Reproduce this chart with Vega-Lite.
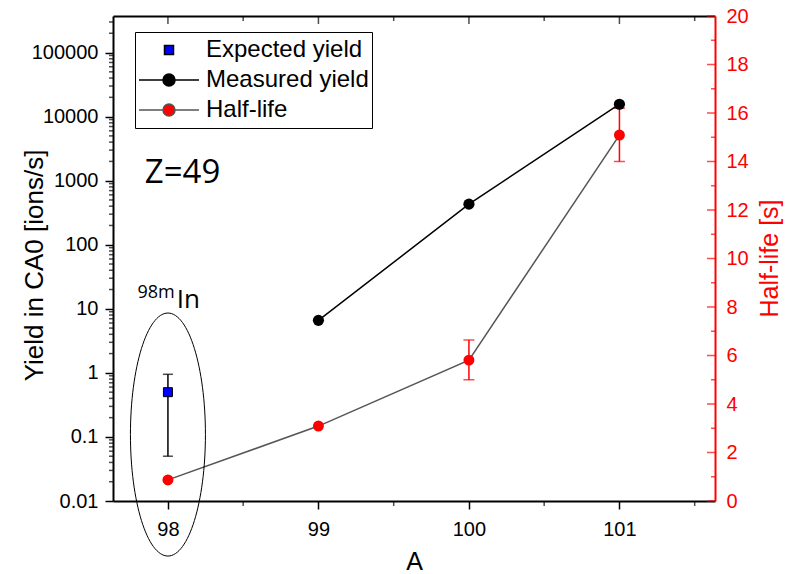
{
  "$schema": "https://vega.github.io/schema/vega-lite/v6.json",
  "width": 602,
  "height": 485,
  "autosize": {"type": "none"},
  "padding": {"left": 113, "top": 16, "right": 77, "bottom": 73},
  "background": "white",
  "config": {
    "view": {"stroke": null},
    "axis": {
      "grid": false,
      "labelFont": "Liberation Sans",
      "labelFontSize": 20,
      "labelColor": "black",
      "titleFont": "Liberation Sans",
      "titleFontWeight": "normal",
      "titleColor": "black",
      "domainColor": "black",
      "domainWidth": 2,
      "tickColor": "black",
      "tickWidth": 1.5,
      "labelOverlap": false,
      "labelFlush": false,
      "labelBound": false
    },
    "legend": {
      "strokeColor": "black",
      "fillColor": "white",
      "padding": 3,
      "labelFont": "Liberation Sans",
      "labelFontSize": 24,
      "labelColor": "black",
      "labelOffset": 6,
      "labelLimit": 400,
      "symbolSize": 3600,
      "clipHeight": 30,
      "rowPadding": 0,
      "symbolStrokeWidth": 1.5,
      "symbolFillColor": "white",
      "symbolStrokeColor": "black"
    }
  },
  "datasets": {
    "yield": [
      {"A": 98, "series": "Expected yield", "yield": 0.5, "lo": 0.05, "hi": 0.95},
      {"A": 99, "series": "Measured yield", "yield": 6.6},
      {"A": 100, "series": "Measured yield", "yield": 430},
      {"A": 101, "series": "Measured yield", "yield": 15600}
    ],
    "halflife": [
      {"A": 98, "halflife": 0.87},
      {"A": 99, "halflife": 3.09},
      {"A": 100, "halflife": 5.81, "lo": 5.0, "hi": 6.64},
      {"A": 101, "halflife": 15.09, "lo": 14.0, "hi": 16.2}
    ],
    "notes": [
      {"label": "Z=49", "A": 97.846, "value": 914},
      {"label": "98m", "A": 98.045, "value": 14.7},
      {"label": "In", "A": 98.058, "value": 10.3}
    ],
    "ellipse": [{"A": 98, "value": 0.109}],
    "legend": [
      {"series": "Expected yield"},
      {"series": "Measured yield"},
      {"series": "Half-life"}
    ],
    "xticks": [
      {"A": 98, "kind": "major"}, {"A": 98.5, "kind": "minor"},
      {"A": 99, "kind": "major"}, {"A": 99.5, "kind": "minor"},
      {"A": 100, "kind": "major"}, {"A": 100.5, "kind": "minor"},
      {"A": 101, "kind": "major"}, {"A": 101.5, "kind": "minor"}
    ],
    "hlticks": [
      {"halflife": 0, "kind": "major"}, {"halflife": 1, "kind": "minor"},
      {"halflife": 2, "kind": "major"}, {"halflife": 3, "kind": "minor"},
      {"halflife": 4, "kind": "major"}, {"halflife": 5, "kind": "minor"},
      {"halflife": 6, "kind": "major"}, {"halflife": 7, "kind": "minor"},
      {"halflife": 8, "kind": "major"}, {"halflife": 9, "kind": "minor"},
      {"halflife": 10, "kind": "major"}, {"halflife": 11, "kind": "minor"},
      {"halflife": 12, "kind": "major"}, {"halflife": 13, "kind": "minor"},
      {"halflife": 14, "kind": "major"}, {"halflife": 15, "kind": "minor"},
      {"halflife": 16, "kind": "major"}, {"halflife": 17, "kind": "minor"},
      {"halflife": 18, "kind": "major"}, {"halflife": 19, "kind": "minor"},
      {"halflife": 20, "kind": "major"}
    ],
    "yticks": [
      {"yield": 0.02}, {"yield": 0.03}, {"yield": 0.04}, {"yield": 0.05}, {"yield": 0.06}, {"yield": 0.07}, {"yield": 0.08}, {"yield": 0.09},
      {"yield": 0.2}, {"yield": 0.3}, {"yield": 0.4}, {"yield": 0.5}, {"yield": 0.6}, {"yield": 0.7}, {"yield": 0.8}, {"yield": 0.9},
      {"yield": 2}, {"yield": 3}, {"yield": 4}, {"yield": 5}, {"yield": 6}, {"yield": 7}, {"yield": 8}, {"yield": 9},
      {"yield": 20}, {"yield": 30}, {"yield": 40}, {"yield": 50}, {"yield": 60}, {"yield": 70}, {"yield": 80}, {"yield": 90},
      {"yield": 200}, {"yield": 300}, {"yield": 400}, {"yield": 500}, {"yield": 600}, {"yield": 700}, {"yield": 800}, {"yield": 900},
      {"yield": 2000}, {"yield": 3000}, {"yield": 4000}, {"yield": 5000}, {"yield": 6000}, {"yield": 7000}, {"yield": 8000}, {"yield": 9000},
      {"yield": 20000}, {"yield": 30000}, {"yield": 40000}, {"yield": 50000}, {"yield": 60000}, {"yield": 70000}, {"yield": 80000}, {"yield": 90000},
      {"yield": 200000}, {"yield": 300000}
    ]
  },
  "layer": [
    {
      "data": {"name": "halflife"},
      "mark": {"type": "line", "color": "#555555", "strokeWidth": 1.5},
      "encoding": {
        "x": {
          "field": "A", "type": "quantitative",
          "scale": {"domain": [97.635, 101.635], "nice": false, "zero": false},
          "axis": {"orient": "top", "values": [98, 99, 100, 101], "labels": false, "ticks": false, "title": null}
        },
        "y": {
          "field": "halflife", "type": "quantitative",
          "scale": {"domain": [0, 20], "nice": false, "zero": false},
          "axis": {
            "orient": "right",
            "values": [0, 2, 4, 6, 8, 10, 12, 14, 16, 18, 20],
            "ticks": false,
            "labelPadding": 11,
            "labelColor": "#ff0000",
            "domainColor": "#ff0000",
            "title": "Half-life [s]",
            "titleColor": "#ff0000",
            "titleFontSize": 25,
            "titleAngle": 270,
            "titleBaseline": "alphabetic",
            "titleX": 62,
            "titleY": 242
          }
        }
      }
    },
    {
      "data": {"name": "xticks"},
      "transform": [{"filter": "datum.kind == 'major'"}],
      "mark": {"type": "tick", "orient": "vertical", "color": "black", "size": 8, "thickness": 1.5, "yOffset": 4},
      "encoding": {
        "x": {"field": "A", "type": "quantitative", "scale": {"domain": [97.635, 101.635], "nice": false, "zero": false}, "axis": null},
        "y": {"datum": 20, "type": "quantitative", "scale": {"domain": [0, 20], "nice": false, "zero": false}, "axis": null}
      }
    },
    {
      "data": {"name": "xticks"},
      "transform": [{"filter": "datum.kind == 'minor'"}],
      "mark": {"type": "tick", "orient": "vertical", "color": "black", "size": 5, "thickness": 1.5, "yOffset": 2.5},
      "encoding": {
        "x": {"field": "A", "type": "quantitative", "scale": {"domain": [97.635, 101.635], "nice": false, "zero": false}, "axis": null},
        "y": {"datum": 20, "type": "quantitative", "scale": {"domain": [0, 20], "nice": false, "zero": false}, "axis": null}
      }
    },
    {
      "data": {"name": "xticks"},
      "transform": [{"filter": "datum.kind == 'minor'"}],
      "mark": {"type": "tick", "orient": "vertical", "color": "black", "size": 5, "thickness": 1.5, "yOffset": 2.5},
      "encoding": {
        "x": {"field": "A", "type": "quantitative", "scale": {"domain": [97.635, 101.635], "nice": false, "zero": false}, "axis": null},
        "y": {"datum": 0, "type": "quantitative", "scale": {"domain": [0, 20], "nice": false, "zero": false}, "axis": null}
      }
    },
    {
      "data": {"name": "hlticks"},
      "transform": [{"filter": "datum.kind == 'major'"}],
      "mark": {"type": "tick", "orient": "horizontal", "color": "#ff0000", "size": 8, "thickness": 1.5, "xOffset": -4},
      "encoding": {
        "x": {"datum": 101.635, "type": "quantitative", "scale": {"domain": [97.635, 101.635], "nice": false, "zero": false}, "axis": null},
        "y": {"field": "halflife", "type": "quantitative", "scale": {"domain": [0, 20], "nice": false, "zero": false}, "axis": null}
      }
    },
    {
      "data": {"name": "hlticks"},
      "transform": [{"filter": "datum.kind == 'minor'"}],
      "mark": {"type": "tick", "orient": "horizontal", "color": "#ff0000", "size": 4, "thickness": 1.5, "xOffset": -2},
      "encoding": {
        "x": {"datum": 101.635, "type": "quantitative", "scale": {"domain": [97.635, 101.635], "nice": false, "zero": false}, "axis": null},
        "y": {"field": "halflife", "type": "quantitative", "scale": {"domain": [0, 20], "nice": false, "zero": false}, "axis": null}
      }
    },
    {
      "data": {"name": "halflife"},
      "transform": [{"filter": "isValid(datum.lo)"}],
      "mark": {"type": "rule", "color": "#ff0000", "strokeWidth": 1.5},
      "encoding": {
        "x": {"field": "A", "type": "quantitative", "scale": {"domain": [97.635, 101.635], "nice": false, "zero": false}, "axis": null},
        "y": {"field": "lo", "type": "quantitative", "scale": {"domain": [0, 20], "nice": false, "zero": false}, "axis": null},
        "y2": {"field": "hi"}
      }
    },
    {
      "data": {"name": "halflife"},
      "transform": [{"filter": "isValid(datum.lo)"}],
      "mark": {"type": "tick", "orient": "horizontal", "color": "#ff0000", "size": 11, "thickness": 1.5},
      "encoding": {
        "x": {"field": "A", "type": "quantitative", "scale": {"domain": [97.635, 101.635], "nice": false, "zero": false}, "axis": null},
        "y": {"field": "lo", "type": "quantitative", "scale": {"domain": [0, 20], "nice": false, "zero": false}, "axis": null}
      }
    },
    {
      "data": {"name": "halflife"},
      "transform": [{"filter": "isValid(datum.hi)"}],
      "mark": {"type": "tick", "orient": "horizontal", "color": "#ff0000", "size": 11, "thickness": 1.5},
      "encoding": {
        "x": {"field": "A", "type": "quantitative", "scale": {"domain": [97.635, 101.635], "nice": false, "zero": false}, "axis": null},
        "y": {"field": "hi", "type": "quantitative", "scale": {"domain": [0, 20], "nice": false, "zero": false}, "axis": null}
      }
    },
    {
      "data": {"name": "halflife"},
      "mark": {"type": "point", "shape": "circle", "filled": true, "color": "#ff0000", "size": 120, "opacity": 1},
      "encoding": {
        "x": {"field": "A", "type": "quantitative", "scale": {"domain": [97.635, 101.635], "nice": false, "zero": false}, "axis": null},
        "y": {"field": "halflife", "type": "quantitative", "scale": {"domain": [0, 20], "nice": false, "zero": false}, "axis": null}
      }
    },
    {
      "data": {"name": "yield"},
      "transform": [{"filter": "datum.series == 'Measured yield'"}],
      "mark": {"type": "line", "color": "black", "strokeWidth": 1.5},
      "encoding": {
        "x": {
          "field": "A", "type": "quantitative",
          "scale": {"domain": [97.635, 101.635], "nice": false, "zero": false},
          "axis": {
            "orient": "bottom",
            "values": [98, 99, 100, 101],
            "format": "d",
            "tickSize": 8,
            "labelPadding": 10,
            "title": "A",
            "titleFontSize": 25,
            "titleBaseline": "alphabetic",
            "titleY": 68
          }
        },
        "y": {
          "field": "yield", "type": "quantitative",
          "scale": {"type": "log", "domain": [0.01, 372000], "nice": false},
          "axis": {
            "orient": "left",
            "values": [0.01, 0.1, 1, 10, 100, 1000, 10000, 100000],
            "labelExpr": "'' + datum.value",
            "tickSize": 8,
            "labelPadding": 7,
            "title": "Yield in CA0 [ions/s]",
            "titleFontSize": 26,
            "titleAngle": 270,
            "titleBaseline": "alphabetic",
            "titleX": -71,
            "titleY": 249
          }
        }
      }
    },
    {
      "data": {"name": "yticks"},
      "mark": {"type": "tick", "orient": "horizontal", "color": "black", "size": 4, "thickness": 1.5, "xOffset": -2},
      "encoding": {
        "x": {"datum": 97.635, "type": "quantitative", "scale": {"domain": [97.635, 101.635], "nice": false, "zero": false}, "axis": null},
        "y": {"field": "yield", "type": "quantitative", "scale": {"type": "log", "domain": [0.01, 372000], "nice": false}, "axis": null}
      }
    },
    {
      "data": {"name": "yield"},
      "transform": [{"filter": "isValid(datum.lo)"}],
      "mark": {"type": "rule", "color": "black", "strokeWidth": 1.5},
      "encoding": {
        "x": {"field": "A", "type": "quantitative", "scale": {"domain": [97.635, 101.635], "nice": false, "zero": false}, "axis": null},
        "y": {"field": "lo", "type": "quantitative", "scale": {"type": "log", "domain": [0.01, 372000], "nice": false}, "axis": null},
        "y2": {"field": "hi"}
      }
    },
    {
      "data": {"name": "yield"},
      "transform": [{"filter": "isValid(datum.lo)"}],
      "mark": {"type": "tick", "orient": "horizontal", "color": "black", "size": 10, "thickness": 1.5},
      "encoding": {
        "x": {"field": "A", "type": "quantitative", "scale": {"domain": [97.635, 101.635], "nice": false, "zero": false}, "axis": null},
        "y": {"field": "lo", "type": "quantitative", "scale": {"type": "log", "domain": [0.01, 372000], "nice": false}, "axis": null}
      }
    },
    {
      "data": {"name": "yield"},
      "transform": [{"filter": "isValid(datum.hi)"}],
      "mark": {"type": "tick", "orient": "horizontal", "color": "black", "size": 10, "thickness": 1.5},
      "encoding": {
        "x": {"field": "A", "type": "quantitative", "scale": {"domain": [97.635, 101.635], "nice": false, "zero": false}, "axis": null},
        "y": {"field": "hi", "type": "quantitative", "scale": {"type": "log", "domain": [0.01, 372000], "nice": false}, "axis": null}
      }
    },
    {
      "data": {"name": "yield"},
      "transform": [{"filter": "datum.series == 'Measured yield'"}],
      "mark": {"type": "point", "shape": "circle", "filled": true, "color": "black", "size": 125, "opacity": 1},
      "encoding": {
        "x": {"field": "A", "type": "quantitative", "scale": {"domain": [97.635, 101.635], "nice": false, "zero": false}, "axis": null},
        "y": {"field": "yield", "type": "quantitative", "scale": {"type": "log", "domain": [0.01, 372000], "nice": false}, "axis": null}
      }
    },
    {
      "data": {"name": "yield"},
      "transform": [{"filter": "datum.series == 'Expected yield'"}],
      "mark": {"type": "point", "shape": "square", "filled": true, "fill": "#0000ff", "stroke": "black", "strokeWidth": 1, "size": 81, "opacity": 1},
      "encoding": {
        "x": {"field": "A", "type": "quantitative", "scale": {"domain": [97.635, 101.635], "nice": false, "zero": false}, "axis": null},
        "y": {"field": "yield", "type": "quantitative", "scale": {"type": "log", "domain": [0.01, 372000], "nice": false}, "axis": null}
      }
    },
    {
      "data": {"name": "ellipse"},
      "mark": {
        "type": "point",
        "shape": "M 0.3086 0 C 0.3086 0.5523 0.1704 1 0 1 C -0.1704 1 -0.3086 0.5523 -0.3086 0 C -0.3086 -0.5523 -0.1704 -1 0 -1 C 0.1704 -1 0.3086 -0.5523 0.3086 0 Z",
        "filled": false,
        "stroke": "black",
        "strokeWidth": 1,
        "size": 59049,
        "opacity": 1
      },
      "encoding": {
        "x": {"field": "A", "type": "quantitative", "scale": {"domain": [97.635, 101.635], "nice": false, "zero": false}, "axis": null},
        "y": {"field": "value", "type": "quantitative", "scale": {"type": "log", "domain": [0.01, 372000], "nice": false}, "axis": null}
      }
    },
    {
      "data": {"name": "notes"},
      "transform": [{"filter": "datum.label == 'Z=49'"}],
      "mark": {"type": "text", "font": "Open Sans", "fontSize": 33, "align": "left", "baseline": "alphabetic", "color": "black"},
      "encoding": {
        "x": {"field": "A", "type": "quantitative", "scale": {"domain": [97.635, 101.635], "nice": false, "zero": false}, "axis": null},
        "y": {"field": "value", "type": "quantitative", "scale": {"type": "log", "domain": [0.01, 372000], "nice": false}, "axis": null},
        "text": {"field": "label"}
      }
    },
    {
      "data": {"name": "notes"},
      "transform": [{"filter": "datum.label == '98m'"}],
      "mark": {"type": "text", "font": "Open Sans", "fontSize": 18, "align": "right", "baseline": "alphabetic", "color": "black"},
      "encoding": {
        "x": {"field": "A", "type": "quantitative", "scale": {"domain": [97.635, 101.635], "nice": false, "zero": false}, "axis": null},
        "y": {"field": "value", "type": "quantitative", "scale": {"type": "log", "domain": [0.01, 372000], "nice": false}, "axis": null},
        "text": {"field": "label"}
      }
    },
    {
      "data": {"name": "notes"},
      "transform": [{"filter": "datum.label == 'In'"}],
      "mark": {"type": "text", "font": "Open Sans", "fontSize": 26, "align": "left", "baseline": "alphabetic", "color": "black"},
      "encoding": {
        "x": {"field": "A", "type": "quantitative", "scale": {"domain": [97.635, 101.635], "nice": false, "zero": false}, "axis": null},
        "y": {"field": "value", "type": "quantitative", "scale": {"type": "log", "domain": [0.01, 372000], "nice": false}, "axis": null},
        "text": {"field": "label"}
      }
    },
    {
      "data": {"name": "legend"},
      "mark": {"type": "point", "filled": true, "opacity": 0},
      "encoding": {
        "fill": {
          "field": "series", "type": "nominal",
          "scale": {"domain": ["Expected yield", "Measured yield", "Half-life"], "range": ["#0000ff", "#000000", "#ff0000"]},
          "legend": {"title": null, "orient": "none", "legendX": 22, "legendY": 16}
        },
        "stroke": {
          "field": "series", "type": "nominal",
          "scale": {"domain": ["Expected yield", "Measured yield", "Half-life"], "range": ["#000000", "#000000", "#555555"]},
          "legend": {"title": null, "orient": "none", "legendX": 22, "legendY": 16}
        },
        "shape": {
          "field": "series", "type": "nominal",
          "scale": {
            "domain": ["Expected yield", "Measured yield", "Half-life"],
            "range": [
              "M -0.15 -0.15 L 0.15 -0.15 L 0.15 0.15 L -0.15 0.15 Z",
              "M -1 0 L -0.2 0 M 0.2 0 L 1 0 M 0.2 0 C 0.2 0.11 0.11 0.2 0 0.2 C -0.11 0.2 -0.2 0.11 -0.2 0 C -0.2 -0.11 -0.11 -0.2 0 -0.2 C 0.11 -0.2 0.2 -0.11 0.2 0 Z",
              "M -1 0 L -0.2 0 M 0.2 0 L 1 0 M 0.2 0 C 0.2 0.11 0.11 0.2 0 0.2 C -0.11 0.2 -0.2 0.11 -0.2 0 C -0.2 -0.11 -0.11 -0.2 0 -0.2 C 0.11 -0.2 0.2 -0.11 0.2 0 Z "
            ]
          },
          "legend": {"title": null, "orient": "none", "legendX": 22, "legendY": 16}
        }
      }
    }
  ],
  "resolve": {"scale": {"y": "independent"}, "axis": {"x": "independent", "y": "independent"}}
}
